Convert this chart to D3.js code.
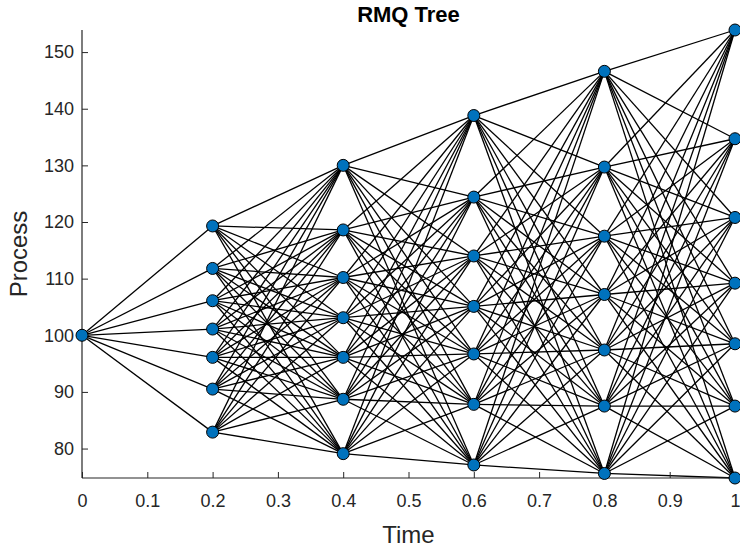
<!DOCTYPE html>
<html>
<head>
<meta charset="utf-8">
<script src="https://cdn.jsdelivr.net/npm/d3@7"></script>
<style>
  body { margin: 0; background: #fff; }
  text { font-family: "Liberation Sans", Arial, Helvetica, sans-serif; }
</style>
</head>
<body>
<div id="chart"></div>
<script>
// node values of the tree, one array per time step
const times = [0, 0.2, 0.4, 0.6, 0.8, 1];
const nodesT0 = [100];
const nodesT1 = [119.3, 111.8, 106.1, 101.1, 96.1, 90.5, 82.9];
const nodesT2 = [130.0, 118.6, 110.2, 103.1, 96.1, 88.7, 79.1];
const nodesT3 = [138.8, 124.4, 114.0, 105.1, 96.7, 87.8, 77.1];
const nodesT4 = [146.6, 129.7, 117.5, 107.2, 97.4, 87.5, 75.6];
const nodesT5 = [153.9, 134.7, 120.8, 109.2, 98.5, 87.5, 74.8];
const xTicks = [0, 0.1, 0.2, 0.3, 0.4, 0.5, 0.6, 0.7, 0.8, 0.9, 1];
const yTicks = [80, 90, 100, 110, 120, 130, 140, 150];

const levels = [nodesT0, nodesT1, nodesT2, nodesT3, nodesT4, nodesT5];

// set the dimensions and margins of the graph
const W = 740, H = 551;
const margin = { top: 30, right: 5, bottom: 73, left: 82 },
  width = W - margin.left - margin.right,
  height = H - margin.top - margin.bottom;

const svg = d3
  .select("#chart")
  .append("svg")
  .attr("width", W)
  .attr("height", H);

const g = svg.append("g").attr("transform", `translate(${margin.left},${margin.top})`);

const x = d3.scaleLinear().domain([0, 1]).range([0, width]);
const allVals = levels.flat();
const y = d3.scaleLinear().domain(d3.extent(allVals)).range([height, 0]);

// edges: every node connects to every node of the next time step
const edges = [];
levels.forEach((lv, i) => {
  if (i === levels.length - 1) return;
  lv.forEach((a) => {
    levels[i + 1].forEach((b) => {
      edges.push({ t0: times[i], v0: a, t1: times[i + 1], v1: b });
    });
  });
});

g.selectAll(".edge")
  .data(edges)
  .join("line")
  .attr("class", "edge")
  .attr("x1", (d) => x(d.t0))
  .attr("y1", (d) => y(d.v0))
  .attr("x2", (d) => x(d.t1))
  .attr("y2", (d) => y(d.v1))
  .style("stroke", "#000")
  .style("stroke-width", 1.3);

// axes (MATLAB style: ticks inside, no box)
const axisColor = "#262626";
const xAxis = g.append("g")
  .attr("transform", `translate(0,${height})`)
  .call(d3.axisBottom(x).tickValues(xTicks).tickSizeInner(-6).tickSizeOuter(0).tickPadding(16)
    .tickFormat((d) => d3.format("~g")(d)));
const yAxis = g.append("g")
  .call(d3.axisLeft(y).tickValues(yTicks).tickSizeInner(-6).tickSizeOuter(0).tickPadding(8));

[xAxis, yAxis].forEach((ax) => {
  ax.select(".domain").style("stroke", axisColor).style("stroke-width", 1.2);
  ax.selectAll(".tick line").style("stroke", axisColor);
  ax.selectAll(".tick text")
    .style("fill", axisColor)
    .style("font-size", "18px")
    .style("font-family", '"Liberation Sans", Arial, sans-serif');
});
xAxis.select(".domain").attr("d", `M0,0H${width}`);
yAxis.select(".domain").attr("d", `M0,${height}V0`);
xAxis.selectAll(".tick text").attr("dy", "0.71em");

// nodes on top of edges
const nodes = [];
levels.forEach((lv, i) => lv.forEach((v) => nodes.push({ t: times[i], v: v })));

g.selectAll(".node")
  .data(nodes)
  .join("circle")
  .attr("class", "node")
  .attr("cx", (d) => x(d.t))
  .attr("cy", (d) => y(d.v))
  .attr("r", 6)
  .style("fill", "#0072BD")
  .style("stroke", "#000")
  .style("stroke-width", 1);

// title and labels
svg.append("text")
  .attr("x", margin.left + width / 2)
  .attr("y", 22)
  .attr("text-anchor", "middle")
  .style("font-size", "22px")
  .style("font-weight", "bold")
  .style("fill", "#000")
  .text("RMQ Tree");

svg.append("text")
  .attr("x", margin.left + width / 2)
  .attr("y", 543)
  .attr("text-anchor", "middle")
  .style("font-size", "24px")
  .style("fill", axisColor)
  .text("Time");

svg.append("text")
  .attr("transform", `translate(27,${margin.top + height / 2}) rotate(-90)`)
  .attr("text-anchor", "middle")
  .style("font-size", "24px")
  .style("fill", axisColor)
  .text("Process");
</script>
</body>
</html>
